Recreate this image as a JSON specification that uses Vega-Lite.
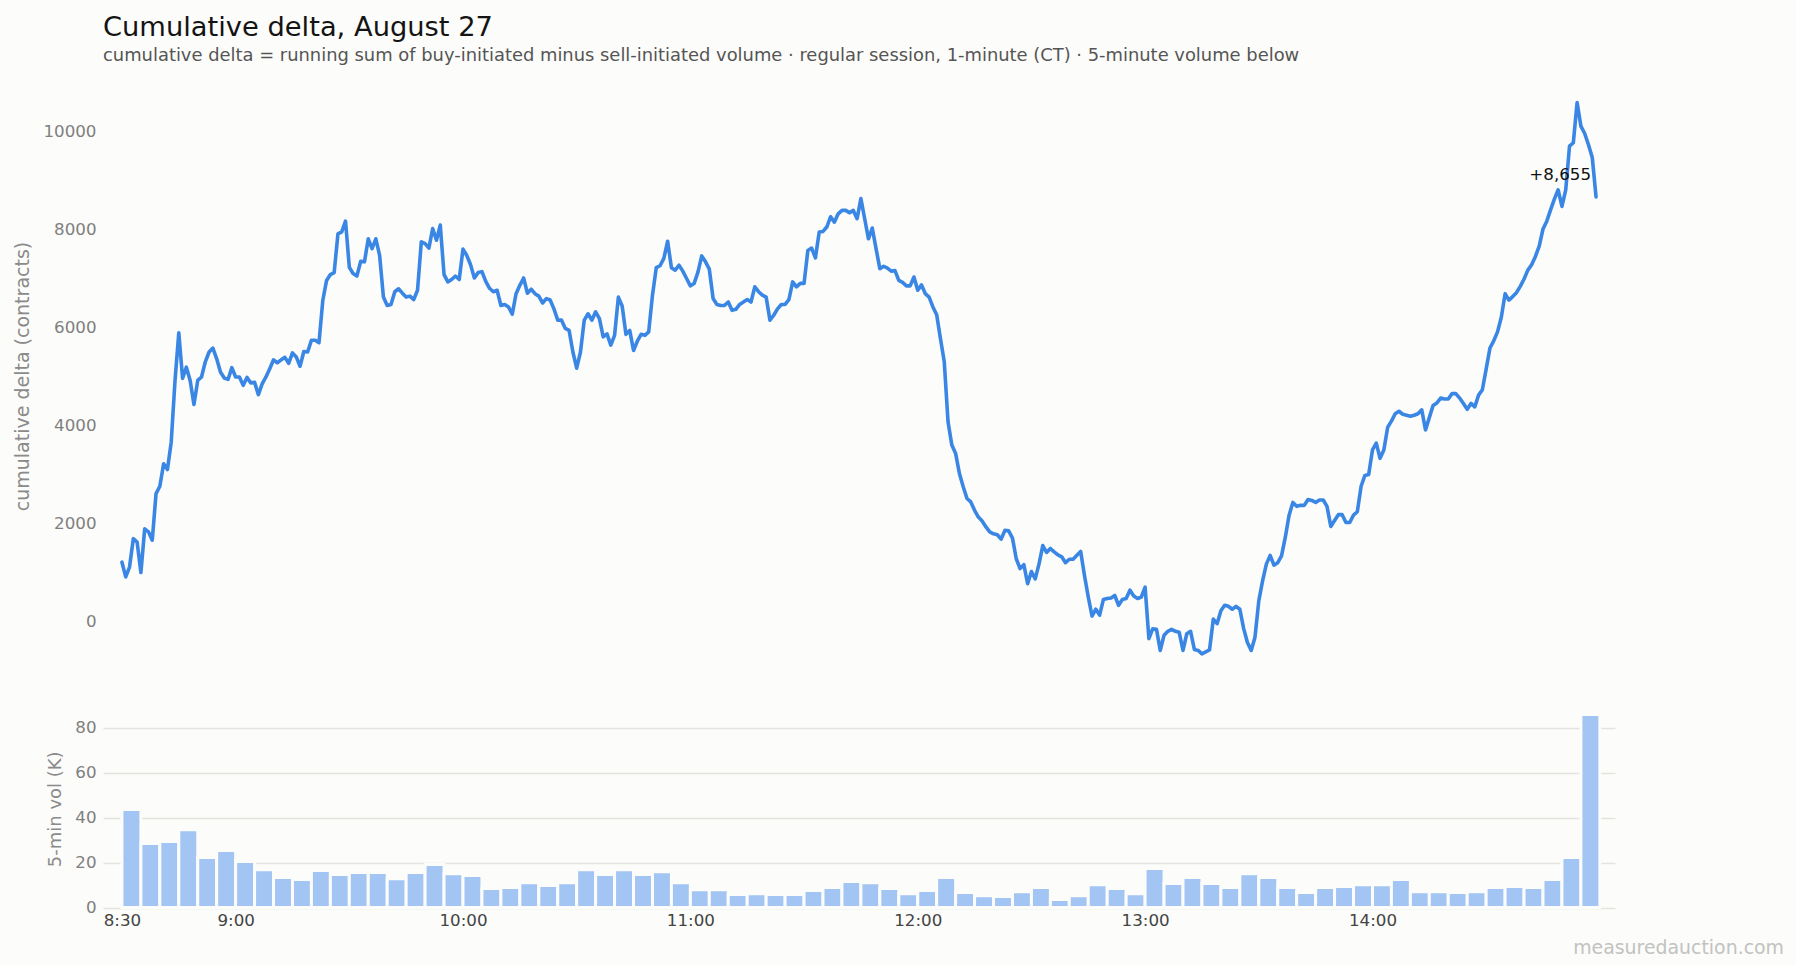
{
  "$schema": "https://vega.github.io/schema/vega-lite/v6.json",
  "background": "#fcfcfa",
  "padding": {"left": 13, "top": 14, "right": 12, "bottom": 8},
  "title": {
    "text": "Cumulative delta, August 27",
    "subtitle": "cumulative delta = running sum of buy-initiated minus sell-initiated volume · regular session, 1-minute (CT) · 5-minute volume below",
    "anchor": "start",
    "frame": "group",
    "offset": 17.5,
    "font": "DejaVu Sans",
    "fontSize": 27.3,
    "fontWeight": "normal",
    "color": "#141414",
    "subtitleFont": "DejaVu Sans",
    "subtitleFontSize": 17.9,
    "subtitleColor": "#555555",
    "subtitlePadding": 5
  },
  "datasets": {
    "delta": [
      {"t":"08:30","delta":1200},{"t":"08:31","delta":900},{"t":"08:32","delta":1100},{"t":"08:33","delta":1680},{"t":"08:34","delta":1610},{"t":"08:35","delta":990},{"t":"08:36","delta":1880},{"t":"08:37","delta":1820},{"t":"08:38","delta":1650},{"t":"08:39","delta":2600},
      {"t":"08:40","delta":2750},{"t":"08:41","delta":3210},{"t":"08:42","delta":3090},{"t":"08:43","delta":3650},{"t":"08:44","delta":4900},{"t":"08:45","delta":5880},{"t":"08:46","delta":4950},{"t":"08:47","delta":5180},{"t":"08:48","delta":4910},{"t":"08:49","delta":4420},
      {"t":"08:50","delta":4910},{"t":"08:51","delta":4980},{"t":"08:52","delta":5290},{"t":"08:53","delta":5490},{"t":"08:54","delta":5570},{"t":"08:55","delta":5350},{"t":"08:56","delta":5080},{"t":"08:57","delta":4960},{"t":"08:58","delta":4930},{"t":"08:59","delta":5170},
      {"t":"09:00","delta":4980},{"t":"09:01","delta":4980},{"t":"09:02","delta":4810},{"t":"09:03","delta":4970},{"t":"09:04","delta":4860},{"t":"09:05","delta":4870},{"t":"09:06","delta":4620},{"t":"09:07","delta":4840},{"t":"09:08","delta":4980},{"t":"09:09","delta":5150},
      {"t":"09:10","delta":5330},{"t":"09:11","delta":5270},{"t":"09:12","delta":5330},{"t":"09:13","delta":5380},{"t":"09:14","delta":5260},{"t":"09:15","delta":5470},{"t":"09:16","delta":5390},{"t":"09:17","delta":5200},{"t":"09:18","delta":5500},{"t":"09:19","delta":5490},
      {"t":"09:20","delta":5730},{"t":"09:21","delta":5730},{"t":"09:22","delta":5680},{"t":"09:23","delta":6540},{"t":"09:24","delta":6950},{"t":"09:25","delta":7070},{"t":"09:26","delta":7110},{"t":"09:27","delta":7900},{"t":"09:28","delta":7940},{"t":"09:29","delta":8160},
      {"t":"09:30","delta":7220},{"t":"09:31","delta":7090},{"t":"09:32","delta":7040},{"t":"09:33","delta":7340},{"t":"09:34","delta":7330},{"t":"09:35","delta":7800},{"t":"09:36","delta":7600},{"t":"09:37","delta":7800},{"t":"09:38","delta":7460},{"t":"09:39","delta":6610},
      {"t":"09:40","delta":6440},{"t":"09:41","delta":6460},{"t":"09:42","delta":6720},{"t":"09:43","delta":6780},{"t":"09:44","delta":6690},{"t":"09:45","delta":6610},{"t":"09:46","delta":6630},{"t":"09:47","delta":6560},{"t":"09:48","delta":6750},{"t":"09:49","delta":7740},
      {"t":"09:50","delta":7700},{"t":"09:51","delta":7610},{"t":"09:52","delta":8010},{"t":"09:53","delta":7770},{"t":"09:54","delta":8080},{"t":"09:55","delta":7070},{"t":"09:56","delta":6920},{"t":"09:57","delta":6970},{"t":"09:58","delta":7040},{"t":"09:59","delta":6970},
      {"t":"10:00","delta":7590},{"t":"10:01","delta":7460},{"t":"10:02","delta":7270},{"t":"10:03","delta":7000},{"t":"10:04","delta":7110},{"t":"10:05","delta":7130},{"t":"10:06","delta":6930},{"t":"10:07","delta":6790},{"t":"10:08","delta":6720},{"t":"10:09","delta":6750},
      {"t":"10:10","delta":6440},{"t":"10:11","delta":6460},{"t":"10:12","delta":6410},{"t":"10:13","delta":6260},{"t":"10:14","delta":6680},{"t":"10:15","delta":6850},{"t":"10:16","delta":7000},{"t":"10:17","delta":6690},{"t":"10:18","delta":6770},{"t":"10:19","delta":6680},
      {"t":"10:20","delta":6630},{"t":"10:21","delta":6490},{"t":"10:22","delta":6580},{"t":"10:23","delta":6550},{"t":"10:24","delta":6370},{"t":"10:25","delta":6140},{"t":"10:26","delta":6140},{"t":"10:27","delta":5970},{"t":"10:28","delta":5930},{"t":"10:29","delta":5490},
      {"t":"10:30","delta":5160},{"t":"10:31","delta":5490},{"t":"10:32","delta":6140},{"t":"10:33","delta":6270},{"t":"10:34","delta":6140},{"t":"10:35","delta":6310},{"t":"10:36","delta":6170},{"t":"10:37","delta":5800},{"t":"10:38","delta":5860},{"t":"10:39","delta":5630},
      {"t":"10:40","delta":5830},{"t":"10:41","delta":6610},{"t":"10:42","delta":6430},{"t":"10:43","delta":5850},{"t":"10:44","delta":5930},{"t":"10:45","delta":5520},{"t":"10:46","delta":5710},{"t":"10:47","delta":5850},{"t":"10:48","delta":5830},{"t":"10:49","delta":5900},
      {"t":"10:50","delta":6650},{"t":"10:51","delta":7210},{"t":"10:52","delta":7250},{"t":"10:53","delta":7400},{"t":"10:54","delta":7750},{"t":"10:55","delta":7210},{"t":"10:56","delta":7160},{"t":"10:57","delta":7260},{"t":"10:58","delta":7140},{"t":"10:59","delta":6990},
      {"t":"11:00","delta":6840},{"t":"11:01","delta":6890},{"t":"11:02","delta":7120},{"t":"11:03","delta":7450},{"t":"11:04","delta":7330},{"t":"11:05","delta":7180},{"t":"11:06","delta":6580},{"t":"11:07","delta":6460},{"t":"11:08","delta":6440},{"t":"11:09","delta":6440},
      {"t":"11:10","delta":6510},{"t":"11:11","delta":6340},{"t":"11:12","delta":6360},{"t":"11:13","delta":6460},{"t":"11:14","delta":6510},{"t":"11:15","delta":6560},{"t":"11:16","delta":6510},{"t":"11:17","delta":6820},{"t":"11:18","delta":6720},{"t":"11:19","delta":6650},
      {"t":"11:20","delta":6610},{"t":"11:21","delta":6140},{"t":"11:22","delta":6240},{"t":"11:23","delta":6370},{"t":"11:24","delta":6460},{"t":"11:25","delta":6460},{"t":"11:26","delta":6560},{"t":"11:27","delta":6920},{"t":"11:28","delta":6820},{"t":"11:29","delta":6890},
      {"t":"11:30","delta":6890},{"t":"11:31","delta":7560},{"t":"11:32","delta":7610},{"t":"11:33","delta":7410},{"t":"11:34","delta":7940},{"t":"11:35","delta":7950},{"t":"11:36","delta":8040},{"t":"11:37","delta":8250},{"t":"11:38","delta":8140},{"t":"11:39","delta":8310},
      {"t":"11:40","delta":8380},{"t":"11:41","delta":8380},{"t":"11:42","delta":8330},{"t":"11:43","delta":8380},{"t":"11:44","delta":8210},{"t":"11:45","delta":8620},{"t":"11:46","delta":8210},{"t":"11:47","delta":7800},{"t":"11:48","delta":8020},{"t":"11:49","delta":7600},
      {"t":"11:50","delta":7190},{"t":"11:51","delta":7240},{"t":"11:52","delta":7200},{"t":"11:53","delta":7140},{"t":"11:54","delta":7150},{"t":"11:55","delta":6950},{"t":"11:56","delta":6910},{"t":"11:57","delta":6840},{"t":"11:58","delta":6840},{"t":"11:59","delta":7020},
      {"t":"12:00","delta":6750},{"t":"12:01","delta":6860},{"t":"12:02","delta":6680},{"t":"12:03","delta":6610},{"t":"12:04","delta":6410},{"t":"12:05","delta":6250},{"t":"12:06","delta":5760},{"t":"12:07","delta":5290},{"t":"12:08","delta":4060},{"t":"12:09","delta":3590},
      {"t":"12:10","delta":3420},{"t":"12:11","delta":3010},{"t":"12:12","delta":2740},{"t":"12:13","delta":2500},{"t":"12:14","delta":2430},{"t":"12:15","delta":2260},{"t":"12:16","delta":2120},{"t":"12:17","delta":2040},{"t":"12:18","delta":1920},{"t":"12:19","delta":1820},
      {"t":"12:20","delta":1780},{"t":"12:21","delta":1760},{"t":"12:22","delta":1670},{"t":"12:23","delta":1850},{"t":"12:24","delta":1840},{"t":"12:25","delta":1690},{"t":"12:26","delta":1270},{"t":"12:27","delta":1070},{"t":"12:28","delta":1150},{"t":"12:29","delta":760},
      {"t":"12:30","delta":1010},{"t":"12:31","delta":860},{"t":"12:32","delta":1160},{"t":"12:33","delta":1540},{"t":"12:34","delta":1400},{"t":"12:35","delta":1480},{"t":"12:36","delta":1410},{"t":"12:37","delta":1350},{"t":"12:38","delta":1310},{"t":"12:39","delta":1190},
      {"t":"12:40","delta":1260},{"t":"12:41","delta":1260},{"t":"12:42","delta":1340},{"t":"12:43","delta":1420},{"t":"12:44","delta":930},{"t":"12:45","delta":490},{"t":"12:46","delta":100},{"t":"12:47","delta":240},{"t":"12:48","delta":120},{"t":"12:49","delta":440},
      {"t":"12:50","delta":460},{"t":"12:51","delta":470},{"t":"12:52","delta":520},{"t":"12:53","delta":320},{"t":"12:54","delta":440},{"t":"12:55","delta":460},{"t":"12:56","delta":630},{"t":"12:57","delta":510},{"t":"12:58","delta":460},{"t":"12:59","delta":490},
      {"t":"13:00","delta":690},{"t":"13:01","delta":-360},{"t":"13:02","delta":-160},{"t":"13:03","delta":-170},{"t":"13:04","delta":-600},{"t":"13:05","delta":-290},{"t":"13:06","delta":-210},{"t":"13:07","delta":-170},{"t":"13:08","delta":-210},{"t":"13:09","delta":-230},
      {"t":"13:10","delta":-600},{"t":"13:11","delta":-260},{"t":"13:12","delta":-210},{"t":"13:13","delta":-580},{"t":"13:14","delta":-600},{"t":"13:15","delta":-670},{"t":"13:16","delta":-630},{"t":"13:17","delta":-590},{"t":"13:18","delta":40},{"t":"13:19","delta":-55},
      {"t":"13:20","delta":210},{"t":"13:21","delta":320},{"t":"13:22","delta":300},{"t":"13:23","delta":240},{"t":"13:24","delta":300},{"t":"13:25","delta":240},{"t":"13:26","delta":-150},{"t":"13:27","delta":-440},{"t":"13:28","delta":-600},{"t":"13:29","delta":-330},
      {"t":"13:30","delta":410},{"t":"13:31","delta":820},{"t":"13:32","delta":1160},{"t":"13:33","delta":1340},{"t":"13:34","delta":1140},{"t":"13:35","delta":1190},{"t":"13:36","delta":1330},{"t":"13:37","delta":1710},{"t":"13:38","delta":2160},{"t":"13:39","delta":2420},
      {"t":"13:40","delta":2340},{"t":"13:41","delta":2360},{"t":"13:42","delta":2360},{"t":"13:43","delta":2480},{"t":"13:44","delta":2460},{"t":"13:45","delta":2420},{"t":"13:46","delta":2470},{"t":"13:47","delta":2470},{"t":"13:48","delta":2340},{"t":"13:49","delta":1930},
      {"t":"13:50","delta":2050},{"t":"13:51","delta":2170},{"t":"13:52","delta":2170},{"t":"13:53","delta":2010},{"t":"13:54","delta":2010},{"t":"13:55","delta":2160},{"t":"13:56","delta":2230},{"t":"13:57","delta":2750},{"t":"13:58","delta":2970},{"t":"13:59","delta":2990},
      {"t":"14:00","delta":3490},{"t":"14:01","delta":3630},{"t":"14:02","delta":3320},{"t":"14:03","delta":3490},{"t":"14:04","delta":3950},{"t":"14:05","delta":4080},{"t":"14:06","delta":4230},{"t":"14:07","delta":4280},{"t":"14:08","delta":4220},{"t":"14:09","delta":4200},
      {"t":"14:10","delta":4180},{"t":"14:11","delta":4200},{"t":"14:12","delta":4230},{"t":"14:13","delta":4310},{"t":"14:14","delta":3900},{"t":"14:15","delta":4150},{"t":"14:16","delta":4400},{"t":"14:17","delta":4450},{"t":"14:18","delta":4550},{"t":"14:19","delta":4530},
      {"t":"14:20","delta":4530},{"t":"14:21","delta":4640},{"t":"14:22","delta":4640},{"t":"14:23","delta":4550},{"t":"14:24","delta":4440},{"t":"14:25","delta":4320},{"t":"14:26","delta":4440},{"t":"14:27","delta":4370},{"t":"14:28","delta":4610},{"t":"14:29","delta":4720},
      {"t":"14:30","delta":5140},{"t":"14:31","delta":5570},{"t":"14:32","delta":5720},{"t":"14:33","delta":5900},{"t":"14:34","delta":6200},{"t":"14:35","delta":6680},{"t":"14:36","delta":6550},{"t":"14:37","delta":6620},{"t":"14:38","delta":6700},{"t":"14:39","delta":6830},
      {"t":"14:40","delta":6980},{"t":"14:41","delta":7160},{"t":"14:42","delta":7270},{"t":"14:43","delta":7440},{"t":"14:44","delta":7650},{"t":"14:45","delta":8000},{"t":"14:46","delta":8160},{"t":"14:47","delta":8390},{"t":"14:48","delta":8610},{"t":"14:49","delta":8800},
      {"t":"14:50","delta":8460},{"t":"14:51","delta":8800},{"t":"14:52","delta":9690},{"t":"14:53","delta":9760},{"t":"14:54","delta":10580},{"t":"14:55","delta":10100},{"t":"14:56","delta":9950},{"t":"14:57","delta":9720},{"t":"14:58","delta":9460},{"t":"14:59","delta":8655}
    ],
    "volume": [
      {"t":"08:30","t_end":"08:35","vol":43.7},{"t":"08:35","t_end":"08:40","vol":28.5},{"t":"08:40","t_end":"08:45","vol":29.4},{"t":"08:45","t_end":"08:50","vol":34.7},{"t":"08:50","t_end":"08:55","vol":22.3},{"t":"08:55","t_end":"09:00","vol":25.4},
      {"t":"09:00","t_end":"09:05","vol":20.5},{"t":"09:05","t_end":"09:10","vol":16.9},{"t":"09:10","t_end":"09:15","vol":13.4},{"t":"09:15","t_end":"09:20","vol":12.5},{"t":"09:20","t_end":"09:25","vol":16.5},{"t":"09:25","t_end":"09:30","vol":14.7},
      {"t":"09:30","t_end":"09:35","vol":15.6},{"t":"09:35","t_end":"09:40","vol":15.6},{"t":"09:40","t_end":"09:45","vol":12.9},{"t":"09:45","t_end":"09:50","vol":15.6},{"t":"09:50","t_end":"09:55","vol":19.2},{"t":"09:55","t_end":"10:00","vol":15.1},
      {"t":"10:00","t_end":"10:05","vol":14.3},{"t":"10:05","t_end":"10:10","vol":8.5},{"t":"10:10","t_end":"10:15","vol":8.9},{"t":"10:15","t_end":"10:20","vol":11.1},{"t":"10:20","t_end":"10:25","vol":9.8},{"t":"10:25","t_end":"10:30","vol":11.1},
      {"t":"10:30","t_end":"10:35","vol":16.9},{"t":"10:35","t_end":"10:40","vol":14.7},{"t":"10:40","t_end":"10:45","vol":16.9},{"t":"10:45","t_end":"10:50","vol":14.7},{"t":"10:50","t_end":"10:55","vol":16.0},{"t":"10:55","t_end":"11:00","vol":11.1},
      {"t":"11:00","t_end":"11:05","vol":8.0},{"t":"11:05","t_end":"11:10","vol":8.0},{"t":"11:10","t_end":"11:15","vol":5.8},{"t":"11:15","t_end":"11:20","vol":6.2},{"t":"11:20","t_end":"11:25","vol":5.8},{"t":"11:25","t_end":"11:30","vol":5.8},
      {"t":"11:30","t_end":"11:35","vol":7.6},{"t":"11:35","t_end":"11:40","vol":8.9},{"t":"11:40","t_end":"11:45","vol":11.6},{"t":"11:45","t_end":"11:50","vol":11.1},{"t":"11:50","t_end":"11:55","vol":8.5},{"t":"11:55","t_end":"12:00","vol":6.2},
      {"t":"12:00","t_end":"12:05","vol":7.6},{"t":"12:05","t_end":"12:10","vol":13.4},{"t":"12:10","t_end":"12:15","vol":6.7},{"t":"12:15","t_end":"12:20","vol":5.3},{"t":"12:20","t_end":"12:25","vol":4.9},{"t":"12:25","t_end":"12:30","vol":7.1},
      {"t":"12:30","t_end":"12:35","vol":8.9},{"t":"12:35","t_end":"12:40","vol":3.6},{"t":"12:40","t_end":"12:45","vol":5.3},{"t":"12:45","t_end":"12:50","vol":10.2},{"t":"12:50","t_end":"12:55","vol":8.5},{"t":"12:55","t_end":"13:00","vol":6.2},
      {"t":"13:00","t_end":"13:05","vol":17.4},{"t":"13:05","t_end":"13:10","vol":10.7},{"t":"13:10","t_end":"13:15","vol":13.4},{"t":"13:15","t_end":"13:20","vol":10.7},{"t":"13:20","t_end":"13:25","vol":8.9},{"t":"13:25","t_end":"13:30","vol":15.1},
      {"t":"13:30","t_end":"13:35","vol":13.4},{"t":"13:35","t_end":"13:40","vol":8.9},{"t":"13:40","t_end":"13:45","vol":6.7},{"t":"13:45","t_end":"13:50","vol":8.9},{"t":"13:50","t_end":"13:55","vol":9.4},{"t":"13:55","t_end":"14:00","vol":10.2},
      {"t":"14:00","t_end":"14:05","vol":10.2},{"t":"14:05","t_end":"14:10","vol":12.5},{"t":"14:10","t_end":"14:15","vol":7.1},{"t":"14:15","t_end":"14:20","vol":7.1},{"t":"14:20","t_end":"14:25","vol":6.7},{"t":"14:25","t_end":"14:30","vol":7.1},
      {"t":"14:30","t_end":"14:35","vol":8.9},{"t":"14:35","t_end":"14:40","vol":9.4},{"t":"14:40","t_end":"14:45","vol":8.9},{"t":"14:45","t_end":"14:50","vol":12.5},{"t":"14:50","t_end":"14:55","vol":22.3},{"t":"14:55","t_end":"15:00","vol":86.0}
    ]
  },
  "vconcat": [
    {
      "width": 1512,
      "height": 588,
      "layer": [
        {
          "mark": {"type": "rule", "color": "#bcbcb6", "strokeWidth": 1.5},
          "encoding": {"y": {"datum": 0, "type": "quantitative"}}
        },
        {
          "data": {"name": "delta", "format": {"parse": {"t": "date:'%H:%M'"}}},
          "mark": {"type": "line", "color": "#3a86e4", "strokeWidth": 3.6, "strokeJoin": "round", "strokeCap": "round"},
          "encoding": {
            "x": {
              "field": "t",
              "type": "temporal",
              "scale": {"domain": [
                {"year": 1900, "month": 1, "date": 1, "hours": 8, "minutes": 25},
                {"year": 1900, "month": 1, "date": 1, "hours": 15, "minutes": 4}
              ]},
              "axis": null
            },
            "y": {
              "field": "delta",
              "type": "quantitative",
              "scale": {"domain": [-1000, 11000], "nice": false, "zero": false},
              "axis": {"title": "cumulative delta (contracts)", "titleFontSize": 19, "values": [0, 2000, 4000, 6000, 8000, 10000], "format": "d"}
            }
          }
        },
        {
          "data": {"values": [{"t": "14:59", "delta": 8655}], "format": {"parse": {"t": "date:'%H:%M'"}}},
          "mark": {"type": "text", "align": "right", "baseline": "middle", "dx": -5, "dy": -22, "fontSize": 16.7, "color": "#111111"},
          "encoding": {
            "x": {"field": "t", "type": "temporal"},
            "y": {"field": "delta", "type": "quantitative"},
            "text": {"field": "delta", "type": "quantitative", "format": "+,"}
          }
        }
      ]
    },
    {
      "width": 1512,
      "height": 197.6,
      "layer": [
        {
          "data": {"name": "volume", "format": {"parse": {"t": "date:'%H:%M'", "t_end": "date:'%H:%M'"}}},
          "mark": {"type": "bar", "color": "#a2c5f3", "stroke": "#fcfcfa", "strokeWidth": 3},
          "encoding": {
            "x": {
              "field": "t",
              "type": "temporal",
              "scale": {"domain": [
                {"year": 1900, "month": 1, "date": 1, "hours": 8, "minutes": 25},
                {"year": 1900, "month": 1, "date": 1, "hours": 15, "minutes": 4}
              ]},
              "axis": {
                "title": null,
                "grid": false,
                "format": "%-H:%M",
                "labelPadding": 5,
                "values": [
                  {"year": 1900, "month": 1, "date": 1, "hours": 8, "minutes": 30},
                  {"year": 1900, "month": 1, "date": 1, "hours": 9, "minutes": 0},
                  {"year": 1900, "month": 1, "date": 1, "hours": 10, "minutes": 0},
                  {"year": 1900, "month": 1, "date": 1, "hours": 11, "minutes": 0},
                  {"year": 1900, "month": 1, "date": 1, "hours": 12, "minutes": 0},
                  {"year": 1900, "month": 1, "date": 1, "hours": 13, "minutes": 0},
                  {"year": 1900, "month": 1, "date": 1, "hours": 14, "minutes": 0}
                ]
              }
            },
            "x2": {"field": "t_end"},
            "y": {
              "field": "vol",
              "type": "quantitative",
              "scale": {"domain": [0, 88], "nice": false},
              "axis": {"title": "5-min vol (K)", "values": [0, 20, 40, 60, 80]}
            },
            "y2": {"datum": 0}
          }
        },
        {
          "data": {"values": [{"site": "measuredauction.com"}]},
          "mark": {"type": "text", "align": "right", "baseline": "alphabetic", "dx": 169, "dy": 46, "fontSize": 18.9, "color": "#c2c2c0"},
          "encoding": {
            "x": {"datum": {"year": 1900, "month": 1, "date": 1, "hours": 15, "minutes": 4}, "type": "temporal"},
            "y": {"datum": 0, "type": "quantitative"},
            "text": {"field": "site"}
          }
        }
      ]
    }
  ],
  "spacing": 40,
  "config": {
    "font": "DejaVu Sans",
    "view": {"stroke": null},
    "axis": {
      "domain": false,
      "ticks": false,
      "labelFont": "DejaVu Sans",
      "labelFontSize": 16.7,
      "labelColor": "#808080",
      "labelPadding": 7,
      "titleFont": "DejaVu Sans",
      "titleFontSize": 18,
      "titleFontWeight": "normal",
      "titleColor": "#8a8a8a",
      "titlePadding": 10,
      "gridColor": "#e3e3df",
      "gridWidth": 1.3
    },
    "axisX": {"labelColor": "#444444"}
  }
}
